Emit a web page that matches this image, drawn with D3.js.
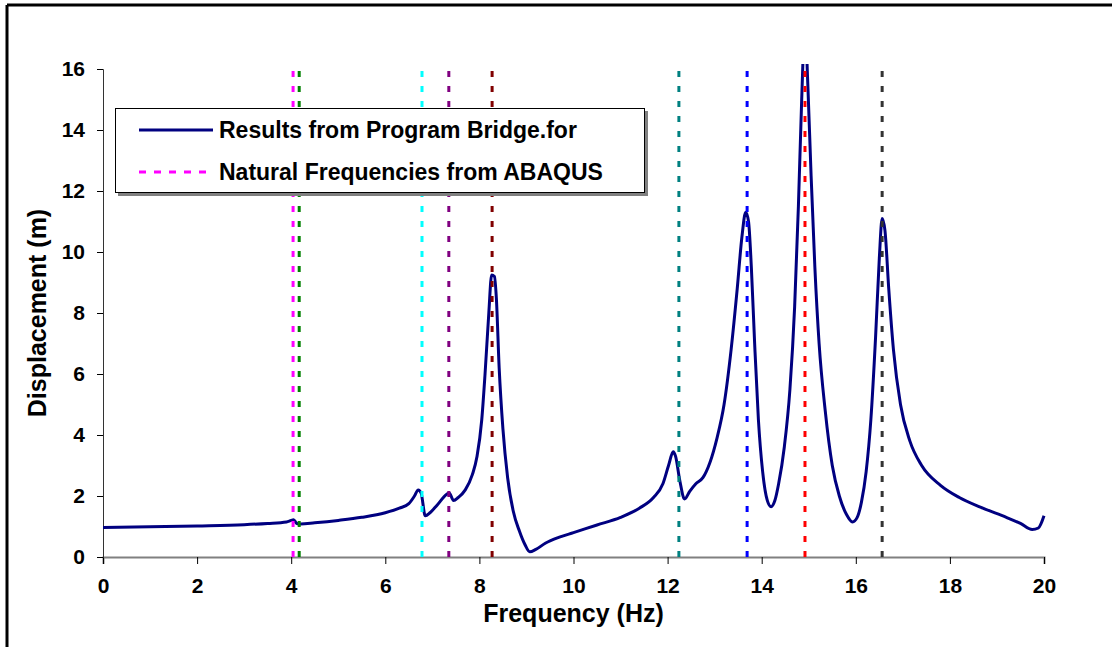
<!DOCTYPE html>
<html>
<head>
<meta charset="utf-8">
<script src="https://cdn.jsdelivr.net/npm/d3@7"></script>
<style>
  body { margin: 0; background: #fff; }
  text { font-family: "Liberation Sans", Arial, sans-serif; font-weight: bold; fill: #000; }
</style>
</head>
<body>
<div id="chart"></div>
<script>
// response curve from Bridge.for (frequency in Hz, displacement in m)
const freqHz = [0, 1, 2, 3, 3.5, 3.9, 4.0, 4.05, 4.12, 4.2, 4.5, 5.0, 5.5, 6.0, 6.3, 6.5, 6.62, 6.7, 6.76, 6.85,
  6.95, 7.1, 7.3, 7.36, 7.45, 7.55, 7.7, 7.85, 7.95, 8.05, 8.12, 8.2, 8.26, 8.32, 8.36, 8.42, 8.5, 8.6, 8.72, 8.85,
  8.97, 9.07, 9.2, 9.4, 9.7, 10.0, 10.5, 11.0, 11.4, 11.7, 11.9, 12.02, 12.12, 12.17, 12.26, 12.36, 12.47, 12.6, 12.75, 12.9,
  13.05, 13.2, 13.35, 13.48, 13.58, 13.66, 13.72, 13.78, 13.85, 13.93, 14.02, 14.12, 14.2, 14.28, 14.36, 14.48, 14.6, 14.7, 14.78, 14.85,
  14.92, 14.98, 15.05, 15.13, 15.22, 15.35, 15.5, 15.65, 15.8, 15.93, 16.03, 16.12, 16.22, 16.32, 16.42, 16.5, 16.56, 16.62, 16.7, 16.8,
  16.95, 17.15, 17.4, 17.8, 18.2, 18.7, 19.2, 19.5, 19.75, 19.88, 20.0];
const dispM = [0.97, 0.99, 1.02, 1.06, 1.1, 1.15, 1.2, 1.22, 1.1, 1.08, 1.12, 1.2, 1.3, 1.45, 1.6, 1.75, 2.0, 2.2, 2.1, 1.35,
  1.45, 1.7, 2.05, 2.1, 1.85, 1.95, 2.2, 2.7, 3.3, 4.5, 6.0, 8.0, 9.25, 9.2, 8.5, 6.2, 4.2, 2.6, 1.5, 0.85,
  0.4, 0.17, 0.25, 0.45, 0.65, 0.8, 1.05, 1.3, 1.6, 1.95, 2.4, 3.0, 3.45, 3.3, 2.5, 1.9, 2.15, 2.4, 2.6, 3.1,
  3.9, 5.0, 6.8, 8.8, 10.5, 11.3, 11.0, 9.5, 7.0, 4.5, 2.8, 1.85, 1.65, 1.85, 2.4, 3.6, 5.5, 8.2, 11.5, 15.0,
  17.5, 15.5, 12.5, 9.5, 7.0, 4.8, 3.0, 2.0, 1.4, 1.15, 1.3, 1.8, 2.8, 4.5, 7.2, 9.8, 11.1, 10.7, 8.8, 6.8,
  5.0, 3.8, 3.0, 2.35, 1.95, 1.6, 1.3, 1.1, 0.9, 0.95, 1.35];

// natural frequencies from ABAQUS (Hz)
const naturalFreqs = [4.04, 4.17, 6.78, 7.35, 8.27, 12.24, 13.69, 14.92, 16.56];
const naturalColors = ['#ff00ff', '#008000', '#00ffff', '#800080', '#800000', '#008080', '#0000ff', '#ff0000', '#333333'];

const xTicks = [0, 2, 4, 6, 8, 10, 12, 14, 16, 18, 20];
const yTicks = [0, 2, 4, 6, 8, 10, 12, 14, 16];
const legendLabels = ['Results from Program Bridge.for', 'Natural Frequencies from ABAQUS'];

const width = 1112, height = 647;
const margin = {top: 69, right: 68, bottom: 90, left: 103};

const svg = d3.select('#chart').append('svg')
    .attr('width', width)
    .attr('height', height);

// outer frame (only top and left edges are in view)
svg.append('line').attr('x1', 7).attr('x2', width).attr('y1', 5).attr('y2', 5)
    .attr('stroke', '#000').attr('stroke-width', 3);
svg.append('line').attr('x1', 7).attr('x2', 7).attr('y1', 5).attr('y2', height)
    .attr('stroke', '#000').attr('stroke-width', 3);

const x = d3.scaleLinear().domain([0, 20]).range([margin.left, width - margin.right]);
const y = d3.scaleLinear().domain([0, 16]).range([height - margin.bottom, margin.top]);

svg.append('defs').append('clipPath').attr('id', 'plotclip')
  .append('rect')
    .attr('x', x(0)).attr('y', y(16) - 5)
    .attr('width', x(20) - x(0) + 4).attr('height', y(0) - y(16) + 5);

// axes
const xAxis = svg.append('g')
    .attr('transform', `translate(0,${y(0)})`)
    .call(d3.axisBottom(x).tickValues(xTicks).tickSize(7).tickPadding(14));
xAxis.select('.domain').attr('stroke', '#808080').attr('stroke-width', 2);
xAxis.selectAll('.tick line').attr('stroke', '#000');

const yAxis = svg.append('g')
    .attr('transform', `translate(${x(0)},0)`)
    .call(d3.axisLeft(y).tickValues(yTicks).tickSize(6).tickPadding(12));
yAxis.select('.domain').attr('stroke', '#333');
yAxis.selectAll('.tick line').attr('stroke', '#000');

svg.selectAll('.tick text')
    .style('font-size', '21px')
    .style('font-family', '"Liberation Sans", Arial, sans-serif')
    .style('font-weight', 'bold')
    .attr('fill', '#000');

// response curve
const pts = freqHz.map((f, i) => [f, dispM[i]]);
const line = d3.line().x(d => x(d[0])).y(d => y(d[1])).curve(d3.curveMonotoneX);

svg.append('path')
    .datum(pts)
    .attr('clip-path', 'url(#plotclip)')
    .attr('fill', 'none')
    .attr('stroke', '#000080')
    .attr('stroke-width', 3)
    .attr('stroke-linejoin', 'round')
    .attr('d', line);

// natural frequency markers
svg.append('g').selectAll('line')
  .data(naturalFreqs)
  .join('line')
    .attr('x1', d => x(d)).attr('x2', d => x(d))
    .attr('y1', y(0)).attr('y2', y(16) - 4)
    .attr('stroke', (d, i) => naturalColors[i])
    .attr('stroke-width', 3)
    .attr('stroke-dasharray', '6,9');

// legend
const lg = svg.append('g').attr('transform', 'translate(115,108)');
lg.append('rect').attr('x', 3).attr('y', 3).attr('width', 530).attr('height', 85).attr('fill', '#808080');
lg.append('rect').attr('x', 0.5).attr('y', 0.5).attr('width', 529).attr('height', 84)
    .attr('fill', '#fff').attr('stroke', '#000').attr('stroke-width', 1);

lg.append('line').attr('x1', 24).attr('x2', 98).attr('y1', 22).attr('y2', 22)
    .attr('stroke', '#000080').attr('stroke-width', 3);
lg.append('line').attr('x1', 24).attr('x2', 98).attr('y1', 64).attr('y2', 64)
    .attr('stroke', '#ff00ff').attr('stroke-width', 3).attr('stroke-dasharray', '7,8');

lg.selectAll('text.leg')
  .data(legendLabels)
  .join('text')
    .attr('class', 'leg')
    .attr('x', 104)
    .attr('y', (d, i) => 30 + i * 42)
    .style('font-size', '23px')
    .text(d => d);

// axis titles
svg.append('text')
    .attr('x', x(10)).attr('y', 622)
    .attr('text-anchor', 'middle')
    .style('font-size', '25px')
    .text('Frequency (Hz)');

svg.append('text')
    .attr('transform', `translate(46,${(y(0) + y(16)) / 2}) rotate(-90)`)
    .attr('text-anchor', 'middle')
    .style('font-size', '25px')
    .text('Displacement (m)');
</script>
</body>
</html>
